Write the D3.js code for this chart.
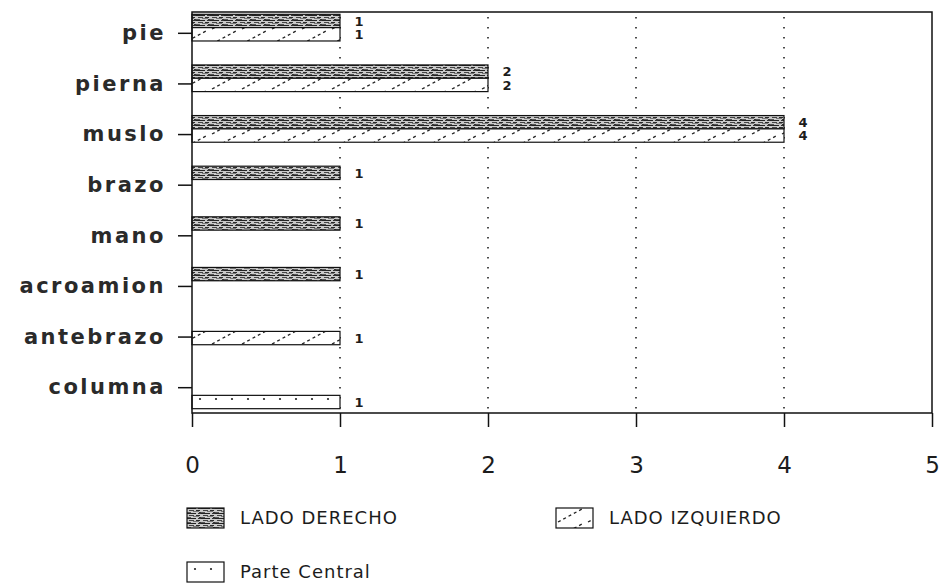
<!DOCTYPE html>
<style>
body { margin: 0; background: #fff; }
svg { display: block; }
.ylab { font: bold 21px "DejaVu Sans", sans-serif; letter-spacing: 2.5px; fill: #2a2a2a; }
.xlab { font: 23px "DejaVu Sans", sans-serif; fill: #1c1c1c; }
.vlab { font: bold 13px "DejaVu Sans", sans-serif; fill: #1c1c1c; }
.leg { font: 18px "DejaVu Sans", sans-serif; letter-spacing: 1px; fill: #1c1c1c; }
.grid { stroke: #222; stroke-width: 1.6; stroke-dasharray: 1.6,8.4; }
.frame { stroke: #111; stroke-width: 1.5; fill: none; }
.bar { stroke: #111; stroke-width: 1.2; }
</style>
<svg width="942" height="585"></svg>
<script src="https://d3js.org/d3.v7.min.js"></script>
<script>

var categories = ["pie", "pierna", "muslo", "brazo", "mano", "acroamion", "antebrazo", "columna"];
var derecho   = [1, 2, 4, 1, 1, 1, 0, 0];
var izquierdo = [1, 2, 4, 0, 0, 0, 1, 0];
var central   = [0, 0, 0, 0, 0, 0, 0, 1];
var seriesKeys = ["der", "izq", "cen"];
var seriesNames = ["LADO DERECHO", "LADO IZQUIERDO", "Parte Central"];
var xTicks = [0, 1, 2, 3, 4, 5];

var svg = d3.select("svg");
var defs = svg.append("defs");

// scanned-looking fills
var pDer = defs.append("pattern").attr("id", "p-der")
  .attr("patternUnits", "userSpaceOnUse").attr("width", 14).attr("height", 5);
pDer.append("rect").attr("width", 14).attr("height", 5).attr("fill", "#cacaca");
[[0,0,9,1,"#222"],[11,0,3,1,"#333"],[2,2,5,1,"#444"],[9,2,4,1,"#2a2a2a"],
 [0,4,4,1,"#555"],[6,3,6,1,"#777"],[12,4,2,1,"#333"]].forEach(function(r) {
  pDer.append("rect").attr("x", r[0]).attr("y", r[1]).attr("width", r[2]).attr("height", r[3]).attr("fill", r[4]);
});

var pIzq = defs.append("pattern").attr("id", "p-izq")
  .attr("patternUnits", "userSpaceOnUse").attr("width", 30).attr("height", 15);
pIzq.append("rect").attr("width", 30).attr("height", 15).attr("fill", "#fff");
pIzq.append("line").attr("x1", 2).attr("y1", 14).attr("x2", 26).attr("y2", 1)
  .attr("stroke", "#222").attr("stroke-width", 1.3).attr("stroke-dasharray", "3,3");

var pCen = defs.append("pattern").attr("id", "p-cen")
  .attr("patternUnits", "userSpaceOnUse").attr("width", 16).attr("height", 14);
pCen.append("rect").attr("width", 16).attr("height", 14).attr("fill", "#fff");
pCen.append("circle").attr("cx", 8).attr("cy", 7).attr("r", 1.1).attr("fill", "#222");

var fills = { der: "url(#p-der)", izq: "url(#p-izq)", cen: "url(#p-cen)" };

var x = d3.scaleLinear().domain([0, 5]).range([192, 932]);
var y = d3.scaleBand().domain(categories).range([8, 413]);
var sub = d3.scaleBand().domain(seriesKeys).range([-19, 21]);
var plotTop = 12, plotBottom = 413;

var rows = [];
categories.forEach(function(c, i) {
  [derecho[i], izquierdo[i], central[i]].forEach(function(v, j) {
    if (v > 0) rows.push({ cat: c, key: seriesKeys[j], value: v });
  });
});

function mid(c) { return y(c) + y.bandwidth() / 2; }

// dotted grid
svg.append("g").selectAll("line")
  .data(xTicks.filter(function(d) { return d > 0 && d < 5; }))
  .enter().append("line")
  .attr("class", "grid")
  .attr("x1", function(d) { return x(d); }).attr("x2", function(d) { return x(d); })
  .attr("y1", plotTop + 5).attr("y2", plotBottom);

// bars
svg.append("g").selectAll("rect")
  .data(rows)
  .enter().append("rect")
  .attr("class", "bar")
  .attr("x", x(0))
  .attr("y", function(d) { return mid(d.cat) + sub(d.key); })
  .attr("width", function(d) { return x(d.value) - x(0); })
  .attr("height", sub.bandwidth())
  .attr("fill", function(d) { return fills[d.key]; });

// value labels
svg.append("g").selectAll("text")
  .data(rows)
  .enter().append("text")
  .attr("class", "vlab")
  .attr("x", function(d) { return x(d.value) + 19; })
  .attr("y", function(d) { return mid(d.cat) + sub(d.key) + sub.bandwidth() / 2; })
  .attr("dy", "0.36em")
  .attr("text-anchor", "middle")
  .text(function(d) { return d.value; });

// frame
svg.append("path").attr("class", "frame")
  .attr("d", "M" + x(0) + "," + plotTop + "H" + x(5) + "V" + plotBottom + "H" + x(0) + "Z");

// y axis
var yAxis = svg.append("g")
  .attr("transform", "translate(" + x(0) + ",0)")
  .call(d3.axisLeft(y).tickSize(14).tickPadding(14));
yAxis.select(".domain").remove();
yAxis.selectAll(".tick line").attr("stroke", "#111").attr("stroke-width", 1.5);
yAxis.selectAll(".tick text").attr("class", "ylab").attr("dx", 2);

// x axis
var xAxis = svg.append("g")
  .attr("transform", "translate(0," + plotBottom + ")")
  .call(d3.axisBottom(x).tickValues(xTicks).tickSize(14).tickPadding(30).tickFormat(d3.format("d")));
xAxis.select(".domain").remove();
xAxis.selectAll(".tick line").attr("stroke", "#111").attr("stroke-width", 1.5);
xAxis.selectAll(".tick text").attr("class", "xlab");

// legend
var legPos = [[187, 508], [556, 508], [187, 562]];
var leg = svg.append("g").selectAll("g")
  .data(seriesKeys)
  .enter().append("g")
  .attr("transform", function(d, i) { return "translate(" + legPos[i][0] + "," + legPos[i][1] + ")"; });
leg.append("rect")
  .attr("class", "bar")
  .attr("width", 37).attr("height", 20)
  .attr("fill", function(d) { return fills[d]; });
leg.append("text")
  .attr("class", "leg")
  .attr("x", 53).attr("y", 10).attr("dy", "0.36em")
  .text(function(d, i) { return seriesNames[i]; });

</script>
